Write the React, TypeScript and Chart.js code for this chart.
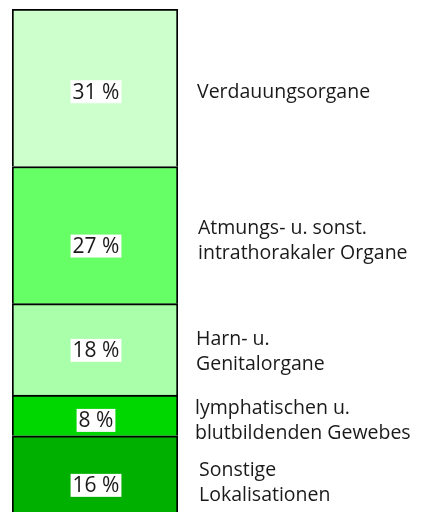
import React, { useEffect, useRef } from "react";
import { Chart, registerables } from "chart.js";

Chart.register(...registerables);

// Segments from top to bottom
const categories = [
  "Verdauungsorgane",
  "Atmungs- u. sonst. intrathorakaler Organe",
  "Harn- u. Genitalorgane",
  "lymphatischen u. blutbildenden Gewebes",
  "Sonstige Lokalisationen",
];
const shares = [31, 27, 18, 8, 16];
const legendLines = [
  ["Verdauungsorgane"],
  ["Atmungs- u. sonst.", "intrathorakaler Organe"],
  ["Harn- u.", "Genitalorgane"],
  ["lymphatischen u.", "blutbildenden Gewebes"],
  ["Sonstige", "Lokalisationen"],
];
const colors = ["#CCFFCC", "#66FF66", "#AAFFAA", "#00D600", "#00B000"];

// label placement tweaks (style only)
const pctOffsets = [4, 11, 1, 5, 9];
const textOffsets = [4, 5, 2, 5, 6];
const textX = [197, 198, 196, 195, 199];

const FONT = '"Open Sans", "DejaVu Sans", sans-serif';

export default function App() {
  const ref = useRef<HTMLCanvasElement>(null);
  useEffect(() => {
    const canvas = ref.current!;
    const n = shares.length;
    // stacked from bottom: reverse order
    const order = [...Array(n).keys()].reverse();
    const labelPlugin = {
      id: "segLabels",
      afterDatasetsDraw(chart: any) {
        const ctx = chart.ctx;
        ctx.save();
        chart.data.datasets.forEach((ds: any, di: number) => {
          const idx = ds.segIndex;
          const el = chart.getDatasetMeta(di).data[0] as any;
          const cy = (el.y + el.base) / 2;
          const cx = el.x + 1;
          // percent label with white background
          ctx.font = `21px ${FONT}`;
          const txt = `${shares[idx]} %`;
          const w = ctx.measureText(txt).width;
          const py = cy + pctOffsets[idx];
          ctx.fillStyle = "#FFFFFF";
          ctx.fillRect(cx - w / 2 - 2, py - 11.5, w + 4, 23);
          ctx.fillStyle = "#1a1a1a";
          ctx.textAlign = "center";
          ctx.textBaseline = "middle";
          ctx.fillText(txt, cx, py + 1);
          // side labels
          const lines = legendLines[idx];
          const lh = 25;
          const ty = cy + textOffsets[idx] - ((lines.length - 1) * lh) / 2;
          ctx.textAlign = "left";
          ctx.font = `19.5px ${FONT}`;
          lines.forEach((ln, li) => {
            ctx.fillText(ln, textX[idx], ty + li * lh + 1);
          });
        });
        ctx.restore();
      },
    };
    const chart = new Chart(canvas, {
      type: "bar",
      data: {
        labels: [""],
        datasets: order.map((i) => ({
          label: categories[i],
          data: [shares[i]],
          backgroundColor: colors[i],
          borderColor: "#000000",
          borderWidth: 2,
          barPercentage: 1,
          categoryPercentage: 1,
          segIndex: i,
        })) as any,
      },
      options: {
        responsive: false,
        animation: false,
        devicePixelRatio: 1,
        layout: { padding: { left: 12, right: 247, top: 9, bottom: 13 } },
        plugins: { legend: { display: false }, tooltip: { enabled: false } },
        scales: {
          x: { stacked: true, display: false },
          y: { stacked: true, display: false, min: 0, max: 100 },
        },
      },
      plugins: [labelPlugin],
    });
    return () => chart.destroy();
  }, []);
  return (
    <div
      style={{
        position: "fixed",
        left: 0,
        top: 0,
        width: 425,
        height: 512,
        overflow: "hidden",
        background: "#fff",
      }}
    >
      <canvas ref={ref} width={425} height={530} style={{ display: "block" }} />
    </div>
  );
}
